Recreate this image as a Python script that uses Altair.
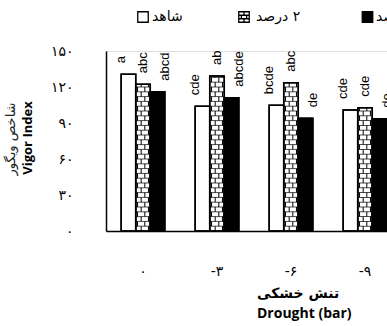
import altair as alt
import pandas as pd

# ---- data ----
drought = ["۰", "-۳", "-۶", "-۹"]
treatments = ["شاهد", "۲ درصد", "۴ درصد"]
control = [130.6, 103.9, 104.8, 100.8]
two_pct = [122.3, 129.2, 123.6, 102.8]
four_pct = [116.1, 111.1, 93.9, 93.6]
letters_control = ["a", "cde", "bcde", "cde"]
letters_two = ["abc", "ab", "abc", "cde"]
letters_four = ["abcd", "abcde", "de", "de"]
y_ticks = [0, 30, 60, 90, 120, 150]
y_tick_labels = ["۰", "۳۰", "۶۰", "۹۰", "۱۲۰", "۱۵۰"]
y_title = ["شاخص ویگور", "Vigor Index"]
x_title = ["تنش خشکی", "Drought (bar)"]

RLE, PDF = "\u202b", "\u202c"

rows = []
for vals, lets, t in zip([control, two_pct, four_pct],
                         [letters_control, letters_two, letters_four], treatments):
    for d, v, l in zip(drought, vals, lets):
        rows.append({"drought": d, "treatment": t, "value": v, "letter": l})
df = pd.DataFrame(rows)

BRICK = treatments[1]
sub_domain = [f"{t}_{i}" for t in treatments for i in range(4)]

x_axis = alt.Axis(title=None, ticks=False, labelAngle=0,
                  labelFont="DejaVu Sans", labelFontSize=14,
                  labelColor="black", labelPadding=40,
                  labelBaseline="middle", domainColor="black",
                  domainWidth=1.5, labelOverlap=False)
x_scale = alt.Scale(domain=drought, range=[0, 296],
                    paddingInner=0.41, paddingOuter=0.205)
label_expr = "".join(f"datum.value == {v} ? '{s}' : " for v, s in zip(y_ticks, y_tick_labels)) + "''"
y_axis = alt.Axis(title=None, values=y_ticks, labelExpr=label_expr,
                  ticks=False, grid=False, labelFont="DejaVu Sans",
                  labelFontSize=14, labelColor="black", labelPadding=33,
                  labelBaseline="middle", domainColor="black",
                  domainWidth=1.5, labelOverlap=False, labelFlush=False)
y_scale = alt.Scale(domain=[0, 150], nice=False)


def xe():
    return alt.X("drought:N", sort=drought, scale=x_scale, axis=x_axis)


def ye(field):
    return alt.Y(field, scale=y_scale, axis=y_axis)


xo_enc = alt.XOffset("treatment:N", sort=treatments,
                     scale=alt.Scale(domain=treatments, paddingInner=0, paddingOuter=0))

fill_scale = alt.Scale(domain=treatments, range=["white", "white", "black"])

base = alt.Chart(df)

bars = base.mark_bar(stroke="black", strokeWidth=1.5).encode(
    x=xe(), xOffset=xo_enc, y=ye("value:Q"),
    fill=alt.Fill("treatment:N", scale=fill_scale, legend=None))

# brick texture rows (4 units per row)
brick_rows = base.transform_filter(
    alt.datum.treatment == BRICK
).transform_calculate(
    k="sequence(0, 40)"
).transform_flatten(["k"]).transform_calculate(
    y0="datum.k * 4",
    y1="min(datum.k * 4 + 4, datum.value)"
).transform_filter("datum.k * 4 < datum.value")

h_lines = brick_rows.transform_filter("datum.k > 0").mark_tick(
    orient="horizontal", color="black", thickness=1, size=14.6
).encode(x=xe(), xOffset=xo_enc, y=ye("y0:Q"))

v_lines = brick_rows.transform_calculate(
    sc="datum.k % 2 == 0 ? [1, 3] : [0, 2]"
).transform_flatten(["sc"]).transform_calculate(
    sub="datum.treatment + '_' + datum.sc"
).mark_rule(color="black", strokeWidth=1).encode(
    x=xe(),
    xOffset=alt.XOffset("sub:N", scale=alt.Scale(domain=sub_domain, paddingInner=0, paddingOuter=0)),
    y=ye("y0:Q"), y2="y1:Q")

outline = base.mark_bar(stroke="black", strokeWidth=1.5, fillOpacity=0).encode(
    x=xe(), xOffset=xo_enc, y=ye("value:Q"))

letters = base.mark_text(angle=270, align="left", baseline="middle",
                         font="Liberation Sans", fontSize=13, yOffset=-11,
                         color="black").encode(
    x=xe(), xOffset=xo_enc, y=ye("value:Q"),
    text="letter:N")

one = alt.Chart(pd.DataFrame({"a": [0]}))

# legend (layout constants, in plot pixels)
leg_sym_x = [37, 138, 261.5]
leg_txt_x = [46, 150, 270]
leg_y = -34
brick_path = ("M-1,-1H1V1H-1Z M-1,-0.33H1 M-1,0.33H1 M0,-1V-0.33 "
              "M-0.5,-0.33V0.33 M0.5,-0.33V0.33 M0,0.33V1")
legend_layers = []
shapes = ["square", brick_path, "square"]
fills = ["white", "white", "black"]
for sx, tx, t, shp, f in zip(leg_sym_x, leg_txt_x, treatments, shapes, fills):
    legend_layers.append(one.mark_point(shape=shp, filled=True, fill=f, stroke="black",
                                        strokeWidth=1.3, size=110, opacity=1).encode(
        x=alt.value(sx), y=alt.value(leg_y)))
    legend_layers.append(one.mark_text(align="left", baseline="middle", font="DejaVu Sans",
                                       fontSize=14, color="black", text=RLE + t + PDF).encode(
        x=alt.value(tx), y=alt.value(leg_y)))

titles = [
    one.mark_text(angle=270, align="center", baseline="middle", font="DejaVu Sans",
                  fontSize=13, color="#222", text=y_title[0]).encode(
        x=alt.value(-95), y=alt.value(88)),
    one.mark_text(angle=270, align="center", baseline="middle", font="Open Sans",
                  fontSize=13, fontWeight="bold", color="black", text=y_title[1]).encode(
        x=alt.value(-78), y=alt.value(87)),
    one.mark_text(align="left", baseline="middle", font="DejaVu Sans",
                  fontSize=14, fontWeight="bold", color="black", text=x_title[0]).encode(
        x=alt.value(151), y=alt.value(243)),
    one.mark_text(align="left", baseline="middle", font="Open Sans",
                  fontSize=14, fontWeight="bold", color="black", text=x_title[1]).encode(
        x=alt.value(151), y=alt.value(263)),
]

chart = alt.layer(bars, h_lines, v_lines, outline, letters, *legend_layers, *titles).resolve_scale(
    xOffset="independent"
).properties(
    width=281, height=180,
    autosize=alt.AutoSizeParams(type="none"),
    padding={"left": 106, "top": 51, "right": 0, "bottom": 95},
).configure_view(stroke=None).configure(background="white")

chart.save("out.html", embed_options={"renderer": "svg", "actions": False})
